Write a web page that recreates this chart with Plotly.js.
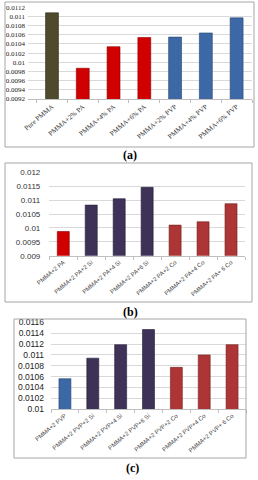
<!DOCTYPE html>
<html>
<head>
<meta charset="utf-8">
<script src="https://cdn.plot.ly/plotly-3.0.1.min.js"></script>
<style>
html,body{margin:0;padding:0;background:#fff;}
#chart{width:258px;height:480px;}
</style>
</head>
<body>
<div id="chart"></div>
<script>
// ---- Data ----
var catsA = ["Pure PMMA", "PMMA+2% PA", "PMMA+4% PA", "PMMA+6% PA", "PMMA+2% PVP", "PMMA+4% PVP", "PMMA+6% PVP"];
var valsA = [0.01108, 0.00987, 0.01034, 0.01054, 0.01055, 0.01064, 0.01097];

var catsB = ["PMMA+2 PA", "PMMA+2 PA+2 Si", "PMMA+2 PA+4 Si", "PMMA+2 PA+6 Si", "PMMA+2 PA+2 Co", "PMMA+2 PA+4 Co", "PMMA+2 PA+ 6 Co"];
var valsB = [0.00987, 0.01082, 0.01105, 0.01146, 0.01010, 0.01022, 0.01087];

var catsC = ["PMMA+2 PVP", "PMMA+2 PVP+2 Si", "PMMA+2 PVP+4 Si", "PMMA+2 PVP+6 Si", "PMMA+2 PVP+2 Co", "PMMA+2 PVP+4 Co", "PMMA+2 PVP+ 6 Co"];
var valsC = [0.01056, 0.01094, 0.01119, 0.01147, 0.01077, 0.01100, 0.01119];

var yTicksA = [0.0092, 0.0094, 0.0096, 0.0098, 0.01, 0.0102, 0.0104, 0.0106, 0.0108, 0.011, 0.0112];
var yTextA = ["0.0092", "0.0094", "0.0096", "0.0098", "0.01", "0.0102", "0.0104", "0.0106", "0.0108", "0.011", "0.0112"];
var yTicksB = [0.009, 0.0095, 0.01, 0.0105, 0.011, 0.0115, 0.012];
var yTextB = ["0.009", "0.0095", "0.01", "0.0105", "0.011", "0.0115", "0.012"];
var yTicksC = [0.01, 0.0102, 0.0104, 0.0106, 0.0108, 0.011, 0.0112, 0.0114, 0.0116];
var yTextC = ["0.01", "0.0102", "0.0104", "0.0106", "0.0108", "0.011", "0.0112", "0.0114", "0.0116"];

// ---- Styles ----
var OLIVE = "#4f4a2c", RED = "#d00000", BLUE = "#3c68a6", PURPLE = "#3e3258", BROWN = "#ad3535";
var colA = [OLIVE, RED, RED, RED, BLUE, BLUE, BLUE];
var lineA = ["#2e2b18", "#8a0000", "#8a0000", "#8a0000", "#244470", "#244470", "#244470"];
var colB = [RED, PURPLE, PURPLE, PURPLE, BROWN, BROWN, BROWN];
var lineB = ["#8a0000", "#241c36", "#241c36", "#241c36", "#742020", "#742020", "#742020"];
var colC = [BLUE, PURPLE, PURPLE, PURPLE, BROWN, BROWN, BROWN];
var lineC = ["#244470", "#241c36", "#241c36", "#241c36", "#742020", "#742020", "#742020"];

var W = 258, H = 480;
function dx(a, b) { return [a / W, b / W]; }
function dy(top, bot) { return [1 - bot / H, 1 - top / H]; }

var traces = [
  {type: "bar", x: catsA, y: valsA, xaxis: "x", yaxis: "y", width: 0.42,
   marker: {color: colA, line: {color: lineA, width: 0.6}}, hoverinfo: "x+y"},
  {type: "bar", x: catsB, y: valsB, xaxis: "x2", yaxis: "y2", width: 0.43,
   marker: {color: colB, line: {color: lineB, width: 0.6}}, hoverinfo: "x+y"},
  {type: "bar", x: catsC, y: valsC, xaxis: "x3", yaxis: "y3", width: 0.43,
   marker: {color: colC, line: {color: lineC, width: 0.6}}, hoverinfo: "x+y"}
];

var serif = "Liberation Serif, Times New Roman, serif";
var sans = "Liberation Sans, Arial, sans-serif";

function xax(domain, anchor, range, font) {
  return {domain: domain, anchor: anchor, type: "category", range: range,
    tickangle: -40, tickfont: font, showgrid: false, zeroline: false,
    showline: true, linecolor: "#bfbfbf", linewidth: 1,
    ticks: "outside", tickson: "boundaries", ticklen: 3, tickcolor: "#bfbfbf",
    fixedrange: true, automargin: false};
}
function yax(domain, anchor, range, vals, text, font, standoff) {
  return {domain: domain, anchor: anchor, range: range, tickmode: "array",
    tickvals: vals, ticktext: text, tickfont: font, showgrid: true,
    gridcolor: "#d9d9d9", gridwidth: 1, zeroline: false, showline: false,
    ticks: "", ticklabelstandoff: standoff, fixedrange: true, automargin: false};
}

var layout = {
  width: W, height: H, margin: {l: 0, r: 0, t: 0, b: 0},
  paper_bgcolor: "#ffffff", plot_bgcolor: "#ffffff", showlegend: false,
  bargap: 0.5,
  xaxis: xax(dx(28, 252), "y", [-0.78, 6.5], {family: serif, size: 7, color: "#333"}),
  yaxis: yax(dy(7.3, 99), "x", [0.0092, 0.0112], yTicksA, yTextA, {family: serif, size: 7, color: "#222"}, 2),
  xaxis2: xax(dx(49.3, 245), "y2", [-0.5, 6.5], {family: sans, size: 6, color: "#444"}),
  yaxis2: yax(dy(172.3, 255.7), "x2", [0.009, 0.012], yTicksB, yTextB, {family: sans, size: 8, color: "#333"}, 8),
  xaxis3: xax(dx(51, 246), "y3", [-0.5, 6.5], {family: sans, size: 6, color: "#444"}),
  yaxis3: yax(dy(322.5, 409), "x3", [0.01, 0.0116], yTicksC, yTextC, {family: sans, size: 8.5, color: "#222"}, 6),
  shapes: [
    {type: "rect", xref: "paper", yref: "paper", x0: 5 / W, x1: 254 / W, y0: 1 - 147 / H, y1: 1 - 2 / H, line: {color: "#a6a6a6", width: 1}},
    {type: "rect", xref: "paper", yref: "paper", x0: 5 / W, x1: 252 / W, y0: 1 - 302 / H, y1: 1 - 163 / H, line: {color: "#a6a6a6", width: 1}},
    {type: "rect", xref: "paper", yref: "paper", x0: 14 / W, x1: 246 / W, y0: 1 - 458 / H, y1: 1 - 319 / H, line: {color: "#a6a6a6", width: 1}}
  ],
  annotations: [
    {text: "<b>(a)</b>", xref: "paper", yref: "paper", x: 130 / W, y: 1 - 155 / H, yanchor: "middle", showarrow: false, font: {family: serif, size: 12, color: "#000"}},
    {text: "<b>(b)</b>", xref: "paper", yref: "paper", x: 130 / W, y: 1 - 312 / H, yanchor: "middle", showarrow: false, font: {family: serif, size: 12, color: "#000"}},
    {text: "<b>(c)</b>", xref: "paper", yref: "paper", x: 132 / W, y: 1 - 468 / H, yanchor: "middle", showarrow: false, font: {family: serif, size: 12, color: "#000"}}
  ]
};

Plotly.newPlot("chart", traces, layout, {displayModeBar: false, staticPlot: true});
</script>
</body>
</html>
